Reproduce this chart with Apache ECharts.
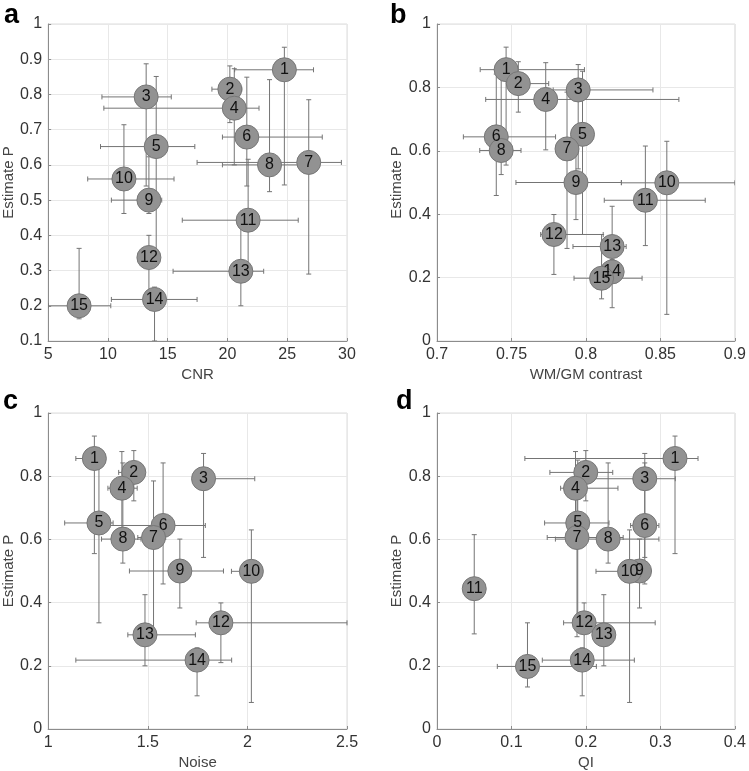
<!DOCTYPE html>
<html>
<head>
<meta charset="utf-8">
<title>Estimate P scatter</title>
<script src="https://cdn.jsdelivr.net/npm/echarts@6/dist/echarts.min.js"></script>
<style>
html, body { margin: 0; padding: 0; background: #fff; }
#main { width: 749px; height: 771px; }
</style>
</head>
<body>
<div id="main"></div>
<script>
// subject numbers
var ids = [1, 2, 3, 4, 5, 6, 7, 8, 9, 10, 11, 12, 13, 14, 15];

// Estimate P for panel a: [value, low, high]
var estA = [
  [0.870, 0.543, 0.934], [0.815, 0.720, 0.881], [0.793, 0.540, 0.887],
  [0.761, 0.600, 0.873], [0.652, 0.336, 0.851], [0.679, 0.540, 0.849],
  [0.607, 0.290, 0.785], [0.600, 0.524, 0.842], [0.500, 0.462, 0.623],
  [0.560, 0.462, 0.714], [0.443, 0.310, 0.616], [0.337, 0.210, 0.400],
  [0.298, 0.200, 0.424], [0.218, 0.100, 0.253], [0.200, 0.163, 0.363]
];
// Estimate P for panels b, c, d
var estP = [
  [0.856, 0.555, 0.927], [0.812, 0.722, 0.881], [0.792, 0.543, 0.872],
  [0.762, 0.603, 0.878], [0.652, 0.336, 0.851], [0.644, 0.459, 0.842],
  [0.606, 0.292, 0.785], [0.601, 0.525, 0.842], [0.500, 0.383, 0.601],
  [0.499, 0.084, 0.630], [0.444, 0.301, 0.615], [0.336, 0.210, 0.399],
  [0.298, 0.200, 0.425], [0.218, 0.105, 0.257], [0.198, 0.133, 0.336]
];

// x measures: [value, low, high]  (null = not shown)
var cnr = [
  [24.76, 20.6, 27.2], [20.2, 18.7, 21.2], [13.2, 9.5, 15.3],
  [20.57, 9.66, 22.64], [14.04, 9.38, 17.27], [21.62, 19.58, 27.93],
  [26.8, 17.46, 29.53], [23.52, 19.58, 26.7], [13.43, 10.29, 14.5],
  [11.34, 8.31, 15.53], [21.73, 16.22, 25.92], [13.43, null, null],
  [21.12, 15.45, 23.03], [13.9, 10.29, 17.46], [7.59, 5.0, 10.24]
];
var contrast = [
  [0.7464, 0.729, 0.799], [0.7546, 0.747, 0.775], [0.7948, 0.778, 0.845],
  [0.773, 0.7327, 0.8624], [0.7977, null, null], [0.7398, 0.7177, 0.7796],
  [0.7873, null, null], [0.7431, 0.7287, 0.7564], [0.7933, 0.753, 0.8238],
  [0.8543, 0.8238, 0.9], [0.8399, 0.8123, 0.8801], [0.7785, 0.7696, 0.8116],
  [0.8176, 0.7913, 0.827], [0.8176, null, null], [0.8105, 0.792, 0.8377]
];
var noise = [
  [1.232, 1.139, 1.25], [1.43, 1.354, 1.483], [1.78, 1.731, 2.037],
  [1.37, 1.30, 1.447], [1.255, 1.083, 1.326], [1.577, 1.309, 1.789],
  [1.529, 1.45, 1.59], [1.375, 1.268, 1.466], [1.661, 1.408, 1.88],
  [2.02, 1.92, 2.045], null, [1.867, 1.743, 2.5],
  [1.486, 1.40, 1.739], [1.7475, 1.139, 1.921], null
];
var qi = [
  [0.3196, 0.118, 0.3505], [0.1998, 0.1516, 0.236], [0.279, 0.201, 0.320],
  [0.186, 0.166, 0.243], [0.189, 0.1445, 0.231], [0.279, 0.26, 0.298],
  [0.188, 0.148, 0.25], [0.2298, 0.159, 0.298], [0.272, null, null],
  [0.2586, 0.2135, 0.272], [0.050, null, null], [0.1976, 0.17, 0.293],
  [0.224, null, null], [0.195, 0.1414, 0.265], [0.1215, 0.081, 0.214]
];

var panels = [
  { letter: 'a', xs: cnr, ys: estA, xName: 'CNR', xMin: 5, xMax: 30, xStep: 5, yMin: 0.1, yMax: 1, yStep: 0.1, dec: 0,
    left: 46, top: 24, lx: 4, ly: 2 },
  { letter: 'b', xs: contrast, ys: estP, xName: 'WM/GM contrast', xMin: 0.7, xMax: 0.9, xStep: 0.05, yMin: 0, yMax: 1, yStep: 0.2, dec: 2,
    left: 437, top: 24, lx: 390, ly: 2 },
  { letter: 'c', xs: noise, ys: estP, xName: 'Noise', xMin: 1, xMax: 2.5, xStep: 0.5, yMin: 0, yMax: 1, yStep: 0.2, dec: 1,
    left: 46, top: 413, lx: 3, ly: 388 },
  { letter: 'd', xs: qi, ys: estP, xName: 'QI', xMin: 0, xMax: 0.4, xStep: 0.1, yMin: 0, yMax: 1, yStep: 0.2, dec: 1,
    left: 437, top: 413, lx: 396, ly: 388 }
];

var font = 'Liberation Sans, Arial, sans-serif';
var grids = [], xAxes = [], yAxes = [], series = [], graphics = [];

function fmt(d) {
  return function (v) { return String(parseFloat(v.toFixed(d))); };
}

panels.forEach(function (p, k) {
  grids.push({ left: p.left, top: p.top, width: 301, height: 317, show: true,
    borderColor: '#dcdcdc', borderWidth: 1, backgroundColor: 'transparent' });
  xAxes.push({ gridIndex: k, type: 'value', min: p.xMin, max: p.xMax, interval: p.xStep,
    name: p.xName, nameLocation: 'middle', nameGap: 26,
    nameTextStyle: { fontFamily: font, fontSize: 15, color: '#444' },
    axisLine: { onZero: false, lineStyle: { color: '#8c8c8c' } },
    axisTick: { inside: true, length: 3, lineStyle: { color: '#8c8c8c' } },
    axisLabel: { fontFamily: font, fontSize: 16, color: '#333', margin: 6, formatter: fmt(p.dec) },
    splitLine: { lineStyle: { color: '#e8e8e8' } } });
  yAxes.push({ gridIndex: k, type: 'value', min: p.yMin, max: p.yMax, interval: p.yStep,
    name: 'Estimate P', nameLocation: 'middle', nameGap: 26, nameRotate: 90,
    nameTextStyle: { fontFamily: font, fontSize: 15, color: '#444' },
    axisLine: { show: true, lineStyle: { color: '#8c8c8c' } },
    axisTick: { inside: true, length: 3, lineStyle: { color: '#8c8c8c' } },
    axisLabel: { fontFamily: font, fontSize: 16, color: '#333', margin: 6, formatter: fmt(1) },
    splitLine: { lineStyle: { color: '#e8e8e8' } } });

  // rows of this panel: [x, y, index]
  var rows = [];
  p.xs.forEach(function (xr, i) {
    if (xr) rows.push([xr[0], p.ys[i][0], i]);
  });

  series.push({
    type: 'custom', xAxisIndex: k, yAxisIndex: k, clip: true, z: 1,
    data: rows,
    renderItem: function (params, api) {
      var i = api.value(2);
      var xr = p.xs[i], yr = p.ys[i];
      var c = api.coord([xr[0], yr[0]]);
      var kids = [];
      var st = { stroke: '#747474', lineWidth: 1 };
      if (xr[1] != null) {
        var a = api.coord([xr[1], yr[0]]), b = api.coord([xr[2], yr[0]]);
        kids.push({ type: 'line', shape: { x1: a[0], y1: c[1], x2: b[0], y2: c[1] }, style: st });
        kids.push({ type: 'line', shape: { x1: a[0], y1: c[1] - 2.5, x2: a[0], y2: c[1] + 2.5 }, style: st });
        kids.push({ type: 'line', shape: { x1: b[0], y1: c[1] - 2.5, x2: b[0], y2: c[1] + 2.5 }, style: st });
      }
      if (yr[1] != null) {
        var lo = api.coord([xr[0], yr[1]]), hi = api.coord([xr[0], yr[2]]);
        kids.push({ type: 'line', shape: { x1: c[0], y1: lo[1], x2: c[0], y2: hi[1] }, style: st });
        kids.push({ type: 'line', shape: { x1: c[0] - 2.5, y1: lo[1], x2: c[0] + 2.5, y2: lo[1] }, style: st });
        kids.push({ type: 'line', shape: { x1: c[0] - 2.5, y1: hi[1], x2: c[0] + 2.5, y2: hi[1] }, style: st });
      }
      return { type: 'group', children: kids };
    }
  });

  series.push({
    type: 'scatter', xAxisIndex: k, yAxisIndex: k, z: 3,
    symbol: 'circle', symbolSize: 24,
    itemStyle: { color: '#929292', borderColor: '#777', borderWidth: 1, opacity: 1 },
    label: { show: true, position: 'inside', fontFamily: font, fontSize: 16, color: '#111',
      formatter: function (q) { return String(ids[q.value[2]]); } },
    emphasis: { disabled: true },
    data: rows
  });

  graphics.push({ type: 'text', left: p.lx, top: p.ly,
    style: { text: p.letter, font: 'bold 27px ' + font, fill: '#000' } });
});

var myChart = echarts.init(document.getElementById('main'), null, { renderer: 'canvas' });
myChart.setOption({
  animation: false,
  backgroundColor: '#fff',
  grid: grids,
  xAxis: xAxes,
  yAxis: yAxes,
  series: series,
  graphic: graphics
});
</script>
</body>
</html>
